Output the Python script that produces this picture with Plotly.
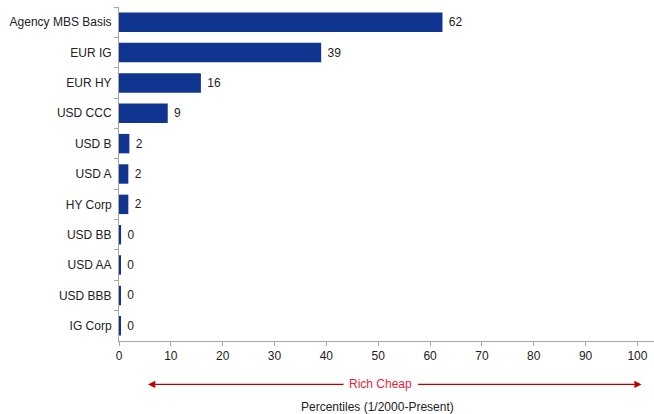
import plotly.graph_objects as go

categories = ["Agency MBS Basis", "EUR IG", "EUR HY", "USD CCC", "USD B", "USD A",
              "HY Corp", "USD BB", "USD AA", "USD BBB", "IG Corp"]
values = [62.4, 39, 15.8, 9.4, 2.0, 1.8, 1.8, 0.4, 0.3, 0.3, 0.3]
labels = ["62", "39", "16", "9", "2", "2", "2", "0", "0", "0", "0"]
x_ticks = [0, 10, 20, 30, 40, 50, 60, 70, 80, 90, 100]
arrow_text = "Rich Cheap"
axis_title = "Percentiles (1/2000-Present)"

FONT = "Liberation Sans, Arial, sans-serif"
BLUE = "#0F3591"
GRAY = "#A6A6A6"
RED = "#C00000"

fig = go.Figure(go.Bar(
    y=categories, x=values, orientation="h",
    marker=dict(color=BLUE, line=dict(width=0)),
    text=["\u00a0" + t for t in labels], textposition="outside", cliponaxis=False,
    textfont=dict(family=FONT, size=12, color="#222222"),
    hoverinfo="skip",
))

fig.update_layout(
    width=654, height=414,
    margin=dict(l=119, r=0, t=7, b=73),
    paper_bgcolor="white", plot_bgcolor="white",
    bargap=0.36, showlegend=False,
    font=dict(family=FONT, size=12, color="#222222"),
    xaxis=dict(range=[0, 103.2], tickvals=x_ticks, showgrid=False, zeroline=False,
               showline=True, linecolor=GRAY, linewidth=1, automargin=False,
               ticks="outside", ticklen=4, tickcolor=GRAY,
               tickfont=dict(family=FONT, size=12, color="#222222")),
    yaxis=dict(categoryorder="array", categoryarray=categories,
               range=[10.5, -0.5], showgrid=False, zeroline=False,
               showline=True, linecolor=GRAY, linewidth=1, automargin=False,
               ticks="outside", ticklen=4, tickcolor=GRAY, tickson="boundaries",
               ticklabelstandoff=4,
               tickfont=dict(family=FONT, size=12, color="#222222")),
)

arrow_y = -0.13
fig.add_annotation(x=5.6, y=arrow_y, xref="x", yref="paper", ax=43.6, ay=0,
                   axref="x", ayref="pixel", text="", showarrow=True,
                   arrowhead=2, arrowsize=1.2, arrowwidth=1.2, arrowcolor=RED)
fig.add_annotation(x=100.8, y=arrow_y, xref="x", yref="paper", ax=57.4, ay=0,
                   axref="x", ayref="pixel", text="", showarrow=True,
                   arrowhead=2, arrowsize=1.2, arrowwidth=1.2, arrowcolor=RED)
fig.add_annotation(x=50.5, y=arrow_y, xref="x", yref="paper", text=arrow_text,
                   yanchor="middle", xanchor="center",
                   showarrow=False, font=dict(family=FONT, size=12, color="#E0263C"))
fig.add_annotation(x=49.9, y=-0.198, xref="x", yref="paper", text=axis_title,
                   yanchor="middle", xanchor="center",
                   showarrow=False, font=dict(family=FONT, size=12, color="#222222"))

fig.write_html("out.html", config={"displayModeBar": False},
               post_script="document.body.style.margin='0';")
